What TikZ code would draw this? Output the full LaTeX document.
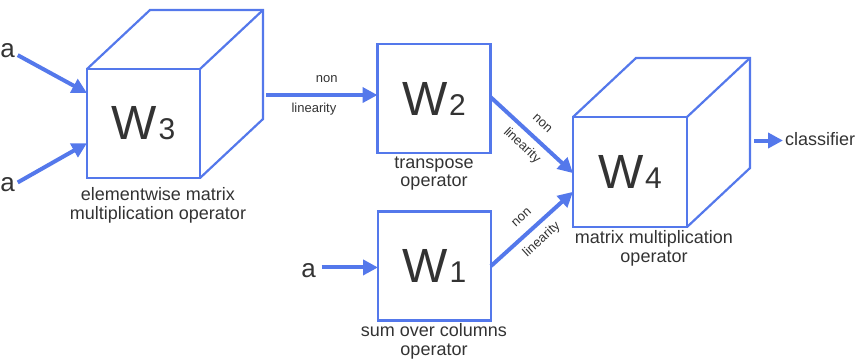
\documentclass[tikz,border=0pt]{standalone}
\usepackage{fontspec}
\setmainfont{Liberation Sans}
\usetikzlibrary{arrows.meta,calc}
\definecolor{lblue}{RGB}{84,120,235}
\definecolor{txt}{RGB}{51,51,51}
\newcommand{\wsub}[1]{{\fontsize{48}{48}\selectfont W}\kern1.5pt{\fontsize{30}{30}\selectfont #1}}
\begin{document}
\begin{tikzpicture}[x=1pt,y=-1pt,
 wbox/.style={draw=lblue,line width=2.2pt,minimum width=113pt,minimum height=109pt,inner sep=0pt,outer sep=0pt,text=txt},
 edgethree/.style={draw=lblue,line width=2.2pt,line join=miter},
 arr/.style={draw=lblue,line width=4pt,-{Triangle[length=15pt,width=15pt]}},
 captxt/.style={text=txt,font=\fontsize{18}{18.6}\selectfont,align=center,inner sep=0pt,outer sep=0pt,anchor=base},
 smalltxt/.style={text=txt,font=\fontsize{13}{15}\selectfont,inner sep=0pt,outer sep=0pt},
 aintxt/.style={text=txt,font=\fontsize{26}{28}\selectfont,inner sep=0pt,outer sep=0pt,anchor=base}]
\useasboundingbox (0,0) rectangle (858,360);

% W3 cube
\node[wbox] (w3) at (143.5,123.5) {\wsub{3}};
\coordinate (w3bnw) at ($(w3.north west)+(63,-59)$);
\coordinate (w3bne) at ($(w3.north east)+(63,-59)$);
\coordinate (w3bse) at ($(w3.south east)+(63,-59)$);
\draw[edgethree] (w3.north west) -- (w3bnw) -- (w3bne) -- (w3bse) -- (w3.south east);
\draw[edgethree] (w3.north east) -- (w3bne);

% W2 and W1 boxes
\node[wbox] (w2) at (434,98.5) {\wsub{2}};
\node[wbox] (w1) at (434.5,266) {\wsub{1}};

% W4 cube
\node[wbox,minimum width=114pt,minimum height=110pt] (w4) at (630,172) {\wsub{4}};
\coordinate (w4bnw) at ($(w4.north west)+(63,-59)$);
\coordinate (w4bne) at ($(w4.north east)+(63,-59)$);
\coordinate (w4bse) at ($(w4.south east)+(63,-59)$);
\draw[edgethree] (w4.north west) -- (w4bnw) -- (w4bne) -- (w4bse) -- (w4.south east);
\draw[edgethree] (w4.north east) -- (w4bne);

% captions (anchor base = baseline of last line)
\node[captxt] (l3) at (158,219.3) {elementwise matrix\\multiplication operator};
\node[captxt] (l2) at (434,186.7) {transpose\\operator};
\node[captxt] (l1) at (434,355) {sum over columns\\operator};
\node[captxt] (l4) at (654,262.3) {matrix multiplication\\operator};

% inputs
\node[aintxt] (a1) at (7.5,57) {a};
\node[aintxt] (a2) at (7.5,191.7) {a};
\node[aintxt] (a3) at (308.5,277) {a};
\draw[arr] ([shift={(3,5)}]a1.east) -- ($(w3.north west)!0.22!(w3.south west)$);
\draw[arr] ([shift={(3,-2.4)}]a2.east) -- ($(w3.north west)!0.68!(w3.south west)$);
\coordinate (a3s) at ([shift={(6,-2.7)}]a3.east);
\draw[arr] (a3s) -- (a3s -| w1.west);

% W3 -> W2
\coordinate (p32) at ($(w3bne)!0.78!(w3bse)$);
\draw[arr] ([xshift=3pt]p32) -- (p32 -| w2.west)
  node[smalltxt,pos=0.545,above=12pt] (n32a) {non}
  node[smalltxt,pos=0.43,below=8pt] (n32b) {linearity};

% W2 -> W4
\draw[arr] ([yshift=1.5pt]w2.east) -- ($(w4.north west)!0.51!(w4.south west)$)
  node[smalltxt,midway,sloped,above=12pt] (n24a) {non}
  node[smalltxt,midway,sloped,below=8.5pt] (n24b) {linearity};

% W1 -> W4
\draw[arr] (w1.east) -- ($(w4.north west)!0.68!(w4.south west)$)
  node[smalltxt,midway,sloped,above=12pt] (n14a) {non}
  node[smalltxt,midway,sloped,below=8.5pt] (n14b) {linearity};

% W4 -> classifier
\coordinate (p4) at ($(w4bne)!0.75!(w4bse)$);
\node[text=txt,font=\fontsize{18}{20}\selectfont,inner sep=0pt,outer sep=0pt,anchor=base west] (cls) at (785,145) {classifier};
\coordinate (ce) at (p4 -| cls.west);
\draw[arr] ([xshift=4pt]p4) -- ([xshift=-2pt]ce);
\end{tikzpicture}
\end{document}
